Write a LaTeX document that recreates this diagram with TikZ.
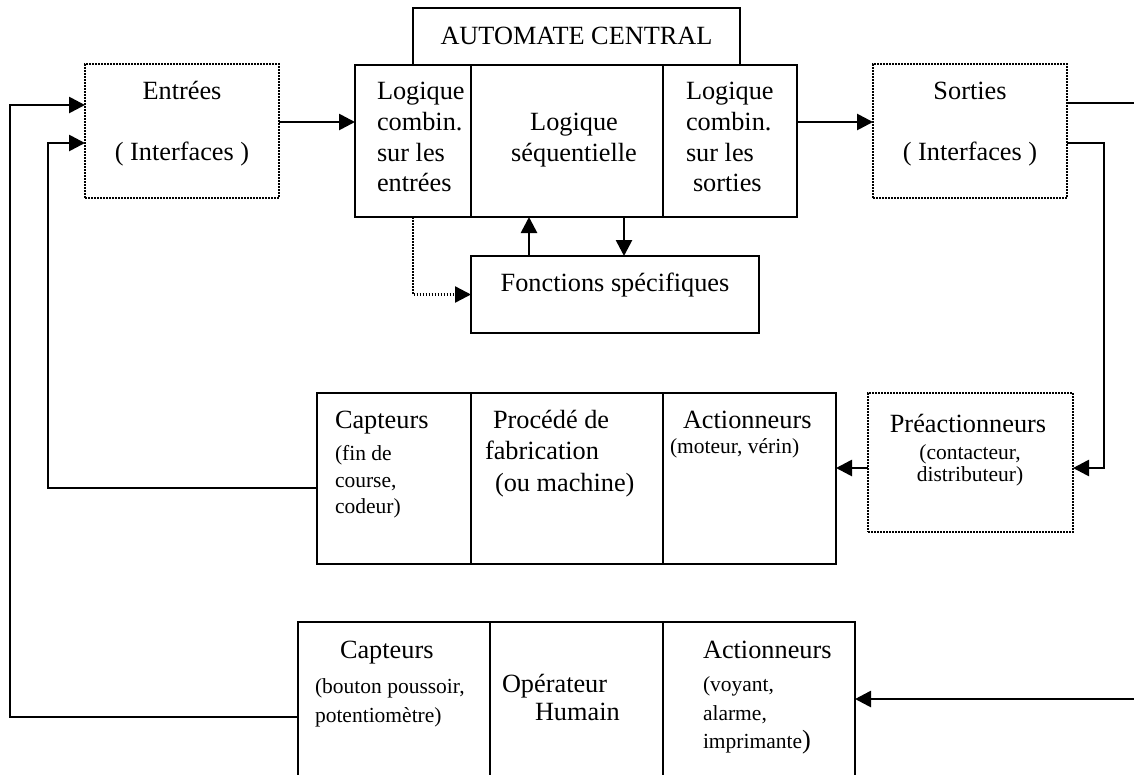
\documentclass[tikz,border=0pt]{standalone}
\usepackage{fontspec}
\setmainfont{Liberation Serif}
\usetikzlibrary{arrows.meta}

% text sizes used in the boxes
\newcommand\mainfs{\fontsize{26.3}{30}\selectfont}
\newcommand\smallfs{\fontsize{21.5}{27}\selectfont}

\begin{document}
\begin{tikzpicture}[
  x=1pt, y=-1pt,
  blk/.style={draw, line width=2.7pt, inner sep=0pt, outer sep=0pt},
  dotblk/.style={draw, line width=2.4pt, dash pattern=on 1.7pt off 1.3pt, inner sep=0pt, outer sep=0pt},
  wire/.style={line width=2.7pt},
  arr/.style={wire, -{Triangle[length=16pt,width=16pt]}},
  dotarr/.style={line width=2.4pt, dash pattern=on 1.7pt off 1.3pt, -{Triangle[length=16pt,width=16pt]}},
  txt/.style={inner sep=0pt, outer sep=0pt, font=\mainfs},
  stxt/.style={inner sep=0pt, outer sep=0pt, font=\smallfs}
]
\clip (0,0) rectangle (1134,774);
\fill[white] (0,0) rectangle (1134,774);

% ---------- interface boxes (dotted) ----------
\node[dotblk, minimum width=194pt, minimum height=134pt] (entrees) at (182,131) {};
\node[dotblk, minimum width=194pt, minimum height=134pt] (sorties) at (970,131) {};
\node[dotblk, minimum width=205pt, minimum height=139pt] (preact) at (970.5,462.5) {};

% ---------- central controller ----------
\node[blk, minimum width=327pt, minimum height=57pt] (automate) at (576.5,36.5) {};
\node[blk, minimum width=116pt, minimum height=152pt] (c1) at (413,141) {};
\node[blk, minimum width=192pt, minimum height=152pt] (c2) at (567,141) {};
\node[blk, minimum width=134pt, minimum height=152pt] (c3) at (730,141) {};
\node[blk, minimum width=288pt, minimum height=77pt] (fonct) at (615,294.5) {};

% ---------- manufacturing process ----------
\node[blk, minimum width=154pt, minimum height=171pt] (p1) at (394,478.5) {};
\node[blk, minimum width=192pt, minimum height=171pt] (p2) at (567,478.5) {};
\node[blk, minimum width=173pt, minimum height=171pt] (p3) at (749.5,478.5) {};

% ---------- human operator ----------
\node[blk, minimum width=192pt, minimum height=178pt] (b1) at (394,711) {};
\node[blk, minimum width=173pt, minimum height=178pt] (b2) at (576.5,711) {};
\node[blk, minimum width=192pt, minimum height=178pt] (b3) at (759,711) {};

% ---------- texts ----------
\node[txt, anchor=base] (tAuto) at (576.5,44) {AUTOMATE CENTRAL};
\node[txt, anchor=base] (tEnt1) at (182,99) {Entrées};
\node[txt, anchor=base] (tEnt2) at (182,160) {( Interfaces )};
\node[txt, anchor=base] (tSor1) at (970,99) {Sorties};
\node[txt, anchor=base] (tSor2) at (970,160) {( Interfaces )};

\node[txt, anchor=base west] (tc1a) at (377,99) {Logique};
\node[txt, anchor=base west] (tc1b) at (377,130) {combin.};
\node[txt, anchor=base west] (tc1c) at (377,161) {sur les};
\node[txt, anchor=base west] (tc1d) at (377,191) {entrées};

\node[txt, anchor=base] (tc2a) at (574,130) {Logique};
\node[txt, anchor=base] (tc2b) at (574,161) {séquentielle};

\node[txt, anchor=base west] (tc3a) at (686,99) {Logique};
\node[txt, anchor=base west] (tc3b) at (686,130) {combin.};
\node[txt, anchor=base west] (tc3c) at (686,161) {sur les};
\node[txt, anchor=base west] (tc3d) at (693,191) {sorties};

\node[txt, anchor=base] (tFon) at (615,291) {Fonctions spécifiques};

\node[txt, anchor=base] (tPre1) at (968,432) {Préactionneurs};
\node[stxt, anchor=base] (tPre2) at (970,459) {(contacteur,};
\node[stxt, anchor=base] (tPre3) at (970,481) {distributeur)};

\node[txt, anchor=base west] (tp1a) at (335,428) {Capteurs};
\node[stxt, anchor=base west] (tp1b) at (335,460) {(fin de};
\node[stxt, anchor=base west] (tp1c) at (335,487) {course,};
\node[stxt, anchor=base west] (tp1d) at (335,513) {codeur)};

\node[txt, anchor=base west] (tp2a) at (493,428) {Procédé de};
\node[txt, anchor=base west] (tp2b) at (485,459) {fabrication};
\node[txt, anchor=base west] (tp2c) at (495,491) {(ou machine)};

\node[txt, anchor=base west] (tp3a) at (683,428) {Actionneurs};
\node[stxt, anchor=base west] (tp3b) at (670,453) {(moteur, vérin)};

\node[txt, anchor=base west] (tb1a) at (340,658) {Capteurs};
\node[stxt, anchor=base west] (tb1b) at (315,693) {(bouton poussoir,};
\node[stxt, anchor=base west] (tb1c) at (315,722) {potentiomètre)};

\node[txt, anchor=base west] (tb2a) at (502,692) {Opérateur};
\node[txt, anchor=base west] (tb2b) at (535,720) {Humain};

\node[txt, anchor=base west] (tb3a) at (703,658) {Actionneurs};
\node[stxt, anchor=base west] (tb3b) at (703,691) {(voyant,};
\node[stxt, anchor=base west] (tb3c) at (703,720) {alarme,};
\node[stxt, anchor=base west] (tb3d) at (703,748) {imprimante{\mainfs)}};

% ---------- routing points ----------
\coordinate (yIn)   at (0,122);
\coordinate (yOutA) at (0,103);
\coordinate (yOutB) at (0,143);
\coordinate (yPre)  at (0,468);
\coordinate (yCap)  at (0,488);
\coordinate (yHum)  at (0,717);
\coordinate (yAct)  at (0,699);
\coordinate (yTop1) at (0,105);
\coordinate (yTop2) at (0,143);
\coordinate (rEdgeA) at (1134,103);
\coordinate (rEdgeB) at (1134,699);
\coordinate (xR)    at (1104,0);
\coordinate (xL1)   at (10,0);
\coordinate (xL2)   at (48,0);
\coordinate (xUp)   at (529,0);
\coordinate (xDown) at (624,0);
\coordinate (dotBend) at (413,294.5);

% ---------- connectors ----------
\draw[arr] (entrees.east |- yIn) -- (c1.west |- yIn);
\draw[arr] (c3.east |- yIn) -- (sorties.west |- yIn);
\draw[wire] (sorties.east |- yOutA) -- (rEdgeA);
\draw[arr] (sorties.east |- yOutB) -- (xR |- yOutB) -- (xR |- yPre) -- (preact.east |- yPre);
\draw[arr] (preact.west |- yPre) -- (p3.east |- yPre);
\draw[arr] (p1.west |- yCap) -- (xL2 |- yCap) -- (xL2 |- yTop2) -- (entrees.west |- yTop2);
\draw[arr] (b1.west |- yHum) -- (xL1 |- yHum) -- (xL1 |- yTop1) -- (entrees.west |- yTop1);
\draw[arr] (rEdgeB) -- (b3.east |- yAct);
\draw[arr] (fonct.north -| xUp) -- (c2.south -| xUp);
\draw[arr] (c2.south -| xDown) -- (fonct.north -| xDown);
\draw[dotarr] (c1.south) -- (dotBend) -- (fonct.west);
\end{tikzpicture}
\end{document}
